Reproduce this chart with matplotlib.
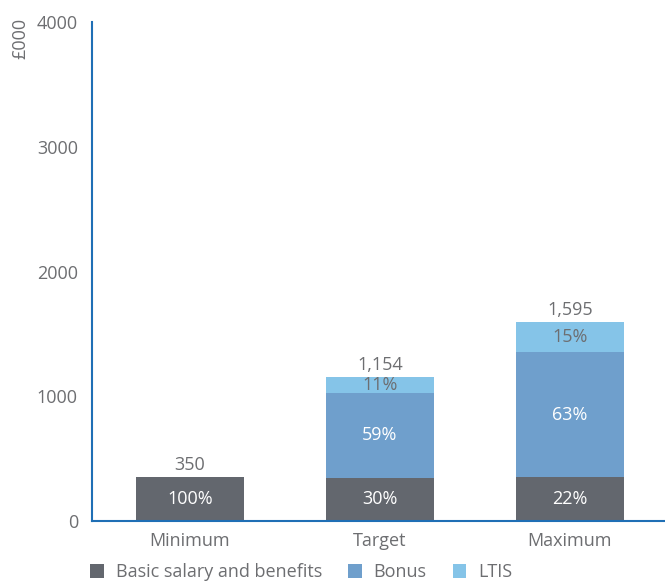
import matplotlib
matplotlib.use('Agg')
import matplotlib.pyplot as plt
import numpy as np

plt.rcParams['font.family'] = ['Open Sans', 'DejaVu Sans']

# Dados
cenarios = ['Minimum', 'Target', 'Maximum']
totais = [350, 1154, 1595]
pct_basico = [100, 30, 22]
pct_bonus = [0, 59, 63]
pct_ltis = [0, 11, 15]
rotulos_total = ['350', '1,154', '1,595']
series = ['Basic salary and benefits', 'Bonus', 'LTIS']

cinza = '#63676e'
azul = '#6f9fcc'
azul_claro = '#85c4e8'
texto = '#6d6e71'
linha = '#1f6fb5'
fs = 13

# valores de cada parte a partir do total e da percentagem
totais_arr = np.array(totais, dtype=float)
basico = totais_arr * np.array(pct_basico) / 100
bonus = totais_arr * np.array(pct_bonus) / 100
ltis = totais_arr - basico - bonus

fig = plt.figure(figsize=(6.65, 5.84), dpi=100)
ax = fig.add_axes([0.138, 0.108, 0.862, 0.854])

x = np.arange(len(cenarios))
larg = 0.57
ax.bar(x, basico, larg, color=cinza, label=series[0])
ax.bar(x, bonus, larg, bottom=basico, color=azul, label=series[1])
ax.bar(x, ltis, larg, bottom=basico + bonus, color=azul_claro, label=series[2])

for i in range(len(cenarios)):
    ax.text(x[i], basico[i] / 2, str(pct_basico[i]) + '%', ha='center', va='center',
            color='white', fontsize=fs)
    if pct_bonus[i] > 0:
        ax.text(x[i], basico[i] + bonus[i] / 2, str(pct_bonus[i]) + '%', ha='center',
                va='center', color='white', fontsize=fs)
    if pct_ltis[i] > 0:
        ax.text(x[i], basico[i] + bonus[i] + ltis[i] / 2, str(pct_ltis[i]) + '%',
                ha='center', va='center', color=texto, fontsize=fs)
    ax.text(x[i], totais[i] + 25, rotulos_total[i], ha='center', va='bottom',
            color=texto, fontsize=fs)

ax.set_xlim(-0.516, 2.5)
ax.set_ylim(0, 4000)
ax.set_yticks([0, 1000, 2000, 3000, 4000])
ax.set_xticks(x)
ax.set_xticklabels(cenarios)
ax.tick_params(axis='both', length=0, labelcolor=texto, labelsize=fs)
ax.tick_params(axis='y', pad=10)
ax.tick_params(axis='x', pad=8)

for lado in ['top', 'right']:
    ax.spines[lado].set_visible(False)
for lado in ['left', 'bottom']:
    ax.spines[lado].set_color(linha)
    ax.spines[lado].set_linewidth(1.5)

fig.text(0.03, 0.97, '£000', rotation=90, ha='center', va='top', color=texto, fontsize=fs)

ax.legend(loc='center left', bbox_to_anchor=(0.117, 0.02), bbox_transform=fig.transFigure,
          ncol=3, frameon=False, handlelength=0.75, handleheight=0.75, handletextpad=0.65,
          columnspacing=1.45, fontsize=fs, labelcolor=texto, borderpad=0.2)

plt.savefig('out.png', dpi=100)
plt.close()
